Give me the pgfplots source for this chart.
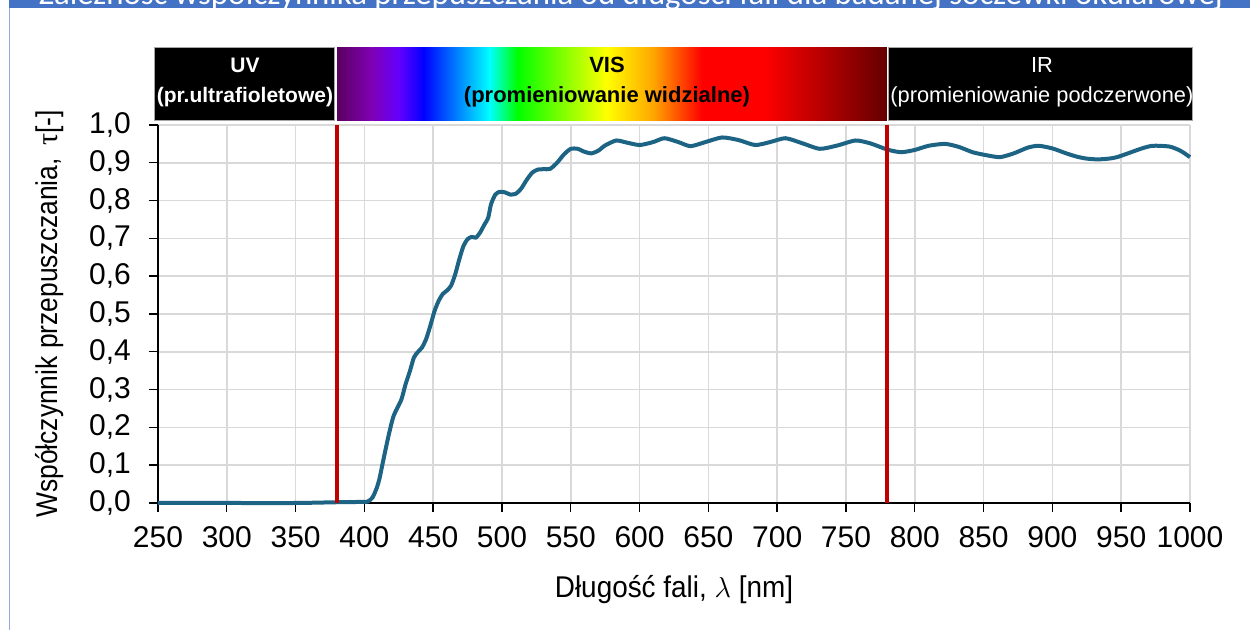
\documentclass[border=0pt]{standalone}
\usepackage{fontspec}
\setmainfont{Liberation Sans}
\newfontfamily\titlefont{Carlito}
\newfontfamily\grfont{Liberation Serif}
\newfontfamily\ycond{Liberation Sans}[FakeStretch=0.88]
\newfontfamily\xcond{Liberation Sans}[FakeStretch=0.93]
\usepackage{pgfplots}
\pgfplotsset{compat=1.18}

\definecolor{curve}{RGB}{28,99,132}
\definecolor{redline}{RGB}{192,0,0}
\definecolor{gridgray}{RGB}{217,217,217}
\definecolor{titleblue}{RGB}{68,114,196}
\definecolor{framebl}{RGB}{143,170,220}
% spectrum stops
\definecolor{s1}{RGB}{90,0,95}
\definecolor{s2}{RGB}{128,0,180}
\definecolor{s3}{RGB}{100,0,255}
\definecolor{s4}{RGB}{0,0,255}
\definecolor{s5}{RGB}{0,255,255}
\definecolor{s6}{RGB}{0,255,0}
\definecolor{s7}{RGB}{255,255,0}
\definecolor{s8}{RGB}{255,165,0}
\definecolor{s9}{RGB}{255,0,0}
\definecolor{s10}{RGB}{100,0,0}

\newcommand{\lblfont}{\fontsize{15}{18}\selectfont}

\begin{document}
\begin{tikzpicture}
\useasboundingbox (0,0) rectangle (625pt,315pt);
\clip (0,0) rectangle (625pt,315pt);
% chart frame and title bar (title cut off at top)
\draw[framebl, line width=0.6pt] (4.75pt,0) -- (4.75pt,311pt);
\fill[titleblue] (4.5pt,311pt) rectangle (625pt,315pt);
\node[anchor=base, text=white, inner sep=0pt, font=\titlefont\fontsize{16.4}{19}\selectfont]
  at (315.5pt,312.6pt) {Zależność współczynnika przepuszczania od długości fali dla badanej soczewki okularowej};

\begin{axis}[
  at={(79pt,63.5pt)}, anchor=south west,
  width=516pt, height=189pt, scale only axis,
  xmin=250, xmax=1000, ymin=0, ymax=1,
  xtick={250,300,350,400,450,500,550,600,650,700,750,800,850,900,950,1000},
  ytick={0,0.1,0.2,0.3,0.4,0.5,0.6,0.7,0.8,0.9,1.0},
  axis x line*=bottom, axis y line*=left,
  axis line style={black, line width=0.8pt},
  tick align=outside, major tick length=4.5pt,
  tick style={black, line width=0.7pt},
  grid=major, major grid style={gridgray, line width=0.8pt},
  /pgf/number format/assume math mode=true,
  ticklabel style={font=\lblfont},
  xticklabel style={yshift=-3.5pt, /pgf/number format/.cd, set thousands separator={}},
  yticklabel style={xshift=-5.5pt, /pgf/number format/.cd, fixed, fixed zerofill, precision=1, use comma},
  xlabel={Długość fali, $\lambda$ [nm]},
  ylabel={Współczynnik przepuszczania,\, {\grfont τ}[-]},
  xlabel style={at={(axis description cs:0.5,-0.23)}, anchor=center, font=\xcond\lblfont},
  ylabel style={at={(axis description cs:-0.1047,0.5)}, anchor=center, font=\ycond\lblfont},
  clip=false,
]
\addplot[curve, line width=2pt, smooth, tension=0.4] coordinates {
  (250,0) (300,0) (350,0) (380,0.002) (400,0.003) (403,0.005) (406,0.015)
  (409,0.04) (411,0.065) (413,0.10) (415,0.135) (418,0.185) (421,0.228)
  (424,0.252) (427,0.275) (430,0.315) (433,0.348) (436,0.385) (439,0.400)
  (442,0.412) (445,0.435) (448,0.470) (451,0.508) (454,0.535) (457,0.553)
  (460,0.562) (463,0.575) (466,0.605) (469,0.645) (472,0.680) (475,0.698)
  (478,0.704) (481,0.702) (484,0.715) (487,0.735) (490,0.755) (492,0.790)
  (495,0.815) (498,0.823) (502,0.822) (506,0.816) (510,0.818) (514,0.832)
  (518,0.855) (522,0.874) (526,0.882) (530,0.883) (535,0.884) (540,0.900)
  (545,0.922) (550,0.937) (555,0.937) (560,0.929) (565,0.925) (570,0.932)
  (575,0.946) (583,0.959) (590,0.954) (600,0.947) (610,0.955) (618,0.965)
  (628,0.955) (637,0.944) (648,0.955) (660,0.967) (672,0.960) (684,0.947)
  (695,0.955) (706,0.965) (718,0.952) (731,0.937) (744,0.946) (757,0.959)
  (768,0.951) (780,0.935) (790,0.928) (800,0.934) (810,0.945) (822,0.950)
  (832,0.942) (842,0.928) (852,0.920) (862,0.915) (872,0.925) (882,0.940)
  (890,0.945) (900,0.938) (910,0.925) (918,0.916) (925,0.911) (933,0.909)
  (941,0.911) (947,0.915) (955,0.925) (965,0.938) (973,0.945) (985,0.943)
  (993,0.932) (1000,0.915)
};
\addplot[redline, line width=2pt] coordinates {(380,0) (380,1)};
\addplot[redline, line width=2pt] coordinates {(780,0) (780,1)};

% UV band
\fill[black] (axis cs:247.8,1.0106) rectangle (axis cs:378.6,1.2063);
\draw[gray!70, line width=0.5pt] (axis cs:247.8,1.0106) rectangle (axis cs:378.6,1.2063);
% VIS band (spectrum)
\shade[left color=s1, right color=s2] (axis cs:380.1,1.0106) rectangle (axis cs:405.3,1.2063);
\shade[left color=s2, right color=s3] (axis cs:405,1.0106) rectangle (axis cs:425.3,1.2063);
\shade[left color=s3, right color=s4] (axis cs:425,1.0106) rectangle (axis cs:443.3,1.2063);
\shade[left color=s4, right color=s5] (axis cs:443,1.0106) rectangle (axis cs:491.3,1.2063);
\shade[left color=s5, right color=s6] (axis cs:491,1.0106) rectangle (axis cs:511.3,1.2063);
\shade[left color=s6, right color=s7] (axis cs:511,1.0106) rectangle (axis cs:576.3,1.2063);
\shade[left color=s7, right color=s8] (axis cs:576,1.0106) rectangle (axis cs:610.3,1.2063);
\shade[left color=s8, right color=s9] (axis cs:610,1.0106) rectangle (axis cs:645.3,1.2063);
\fill[s9] (axis cs:645,1.0106) rectangle (axis cs:690.3,1.2063);
\shade[left color=s9, right color=s10] (axis cs:690,1.0106) rectangle (axis cs:779.8,1.2063);
% IR band
\fill[black] (axis cs:781.2,1.0106) rectangle (axis cs:1001.5,1.2063);
\draw[gray!70, line width=0.5pt] (axis cs:781.2,1.0106) rectangle (axis cs:1001.5,1.2063);

\node[anchor=base, text=white, inner sep=0pt, font=\bfseries\fontsize{10.5}{12}\selectfont] at (axis cs:313.2,1.1376) {UV};
\node[anchor=base, text=white, inner sep=0pt, font=\bfseries\fontsize{10.5}{12}\selectfont] at (axis cs:313.2,1.0608) {(pr.ultrafioletowe)};
\node[anchor=base, text=black, inner sep=0pt, font=\bfseries\fontsize{11}{13}\selectfont] at (axis cs:576.3,1.1376) {VIS};
\node[anchor=base, text=black, inner sep=0pt, font=\bfseries\fontsize{11}{13}\selectfont] at (axis cs:576.3,1.0608) {(promieniowanie widzialne)};
\node[anchor=base, text=white, inner sep=0pt, font=\fontsize{10.9}{13}\selectfont] at (axis cs:892.4,1.1376) {IR};
\node[anchor=base, text=white, inner sep=0pt, font=\fontsize{10.9}{13}\selectfont] at (axis cs:892.4,1.0608) {(promieniowanie podczerwone)};
\end{axis}
\end{tikzpicture}
\end{document}
